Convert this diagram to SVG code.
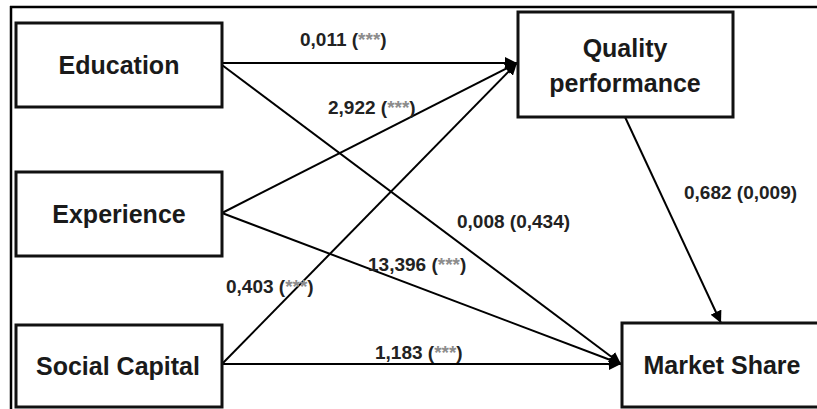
<svg xmlns="http://www.w3.org/2000/svg" width="817" height="409" viewBox="0 0 817 409">
<style>
.box{fill:#fff;stroke:#111;stroke-width:3}
.frame{stroke:#000;stroke-width:2.5;fill:none}
.node{font-family:"Liberation Sans",Arial,sans-serif;font-weight:bold;font-size:25px;fill:#1a1a1a;text-anchor:middle}
.lbl{font-family:"Liberation Sans",Arial,sans-serif;font-weight:bold;font-size:19px;fill:#222}
.st{fill:#8c8c8c}
.edge{stroke:#000;stroke-width:2;fill:none;marker-end:url(#ah)}
</style>
<defs>
<marker id="ah" viewBox="0 0 10 10" refX="10" refY="5" markerWidth="6" markerHeight="6" orient="auto" markerUnits="strokeWidth">
<path d="M0,0 L10,5 L0,10 z" fill="#000"/>
</marker>
</defs>
<rect width="817" height="409" fill="#fff"/>
<g id="frame">
<line class="frame" x1="10" y1="7" x2="817" y2="7"/>
<line class="frame" x1="11" y1="6" x2="11" y2="409"/>
</g>
<g id="connectors">
<line class="edge" x1="222" y1="63" x2="517" y2="63"/>
<line class="edge" x1="222" y1="213" x2="517" y2="63"/>
<line class="edge" x1="222" y1="364" x2="517" y2="63"/>
<line class="edge" x1="222" y1="65" x2="621" y2="364"/>
<line class="edge" x1="222" y1="213" x2="621" y2="364"/>
<line class="edge" x1="222" y1="364" x2="621" y2="364"/>
<line class="edge" x1="625" y1="117" x2="721" y2="323"/>
</g>
<g id="labels">
<text class="lbl" x="300" y="46">0,011 (<tspan class="st">***</tspan>)</text>
<text class="lbl" x="328" y="114">2,922 (<tspan class="st">***</tspan>)</text>
<text class="lbl" x="457" y="228">0,008 (0,434)</text>
<text class="lbl" x="368" y="271">13,396 (<tspan class="st">***</tspan>)</text>
<text class="lbl" x="226" y="293">0,403 (<tspan class="st">***</tspan>)</text>
<text class="lbl" x="375" y="359">1,183 (<tspan class="st">***</tspan>)</text>
<text class="lbl" x="684" y="199">0,682 (0,009)</text>
</g>
<g id="education">
<rect class="box" x="16" y="23" width="206" height="84"/>
<text class="node" x="119" y="74">Education</text>
</g>
<g id="experience">
<rect class="box" x="16" y="172" width="206" height="84"/>
<text class="node" x="119" y="223">Experience</text>
</g>
<g id="social-capital">
<rect class="box" x="16" y="325" width="206" height="82"/>
<text class="node" x="118" y="375">Social Capital</text>
</g>
<g id="quality-performance">
<rect class="box" x="518" y="12" width="215" height="105"/>
<text class="node" x="625" y="57">Quality</text>
<text class="node" x="625" y="92">performance</text>
</g>
<g id="market-share">
<rect class="box" x="622" y="323" width="200" height="84"/>
<text class="node" x="722" y="374">Market Share</text>
</g>
</svg>
